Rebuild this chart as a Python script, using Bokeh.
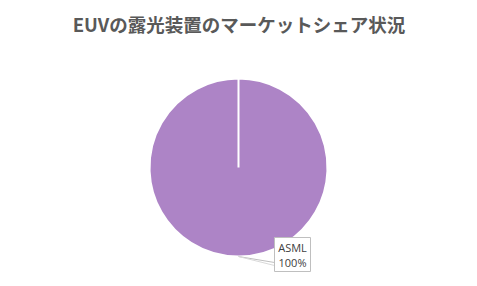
import math
from bokeh.plotting import figure
from bokeh.models import Range1d, ColumnDataSource
from bokeh.core.properties import value
from bokeh.embed import file_html
from bokeh.resources import INLINE

title = "EUVの露光装置のマーケットシェア状況"
companies = ["ASML"]
shares = [100]
colors = ["#AD84C6"]

W, H = 477, 286
cx, cy, R = 238, 286 - 167, 89

total = sum(shares)
starts, ends = [], []
acc = 0.0
for s in shares:
    a0 = math.pi / 2 - 2 * math.pi * acc / total
    acc += s
    a1 = math.pi / 2 - 2 * math.pi * acc / total + 1e-6
    starts.append(a0)
    ends.append(a1)

src = ColumnDataSource(dict(x=[cx] * len(shares), y=[cy] * len(shares),
                            start=starts, end=ends, color=colors))

p = figure(width=W, height=H, output_backend="svg", toolbar_location=None,
           x_range=Range1d(0, W), y_range=Range1d(0, H), min_border=0)
p.axis.visible = False
p.grid.visible = False
p.outline_line_color = None
p.background_fill_color = "white"
p.border_fill_color = "white"

p.wedge(x="x", y="y", radius=R, start_angle="start", end_angle="end",
        direction="clock", fill_color="color", line_color="white",
        line_width=2, source=src)

# title
p.text(x=[W / 2], y=[H - 23], text=[title], text_align="center",
       text_baseline="middle", text_font=value("Noto Sans CJK JP"),
       text_font_style="bold", text_font_size="18.5px", text_color="#595959")

# data label with leader line
bx0, bx1, by0, by1 = 274, 310, 286 - 271, 286 - 237
p.line(x=[238, bx0], y=[286 - 256, 286 - 262],
       line_color="#BFBFBF", line_width=1)
p.line(x=[238, bx0], y=[286 - 256, 286 - 265],
       line_color="#D9D9D9", line_width=1)
p.quad(left=[bx0], right=[bx1], bottom=[by0], top=[by1],
       fill_color="white", line_color="#BFBFBF", line_width=1)
pct = [f"{round(100 * s / total)}%" for s in shares]
p.text(x=[(bx0 + bx1) / 2] * 2, y=[286 - 246.5, 286 - 262],
       text=[companies[0], pct[0]], text_align="center",
       text_baseline="middle", text_font=value("Open Sans"),
       text_font_size="11px", text_color="#404040")

open("out.html", "w").write(file_html(p, INLINE))
